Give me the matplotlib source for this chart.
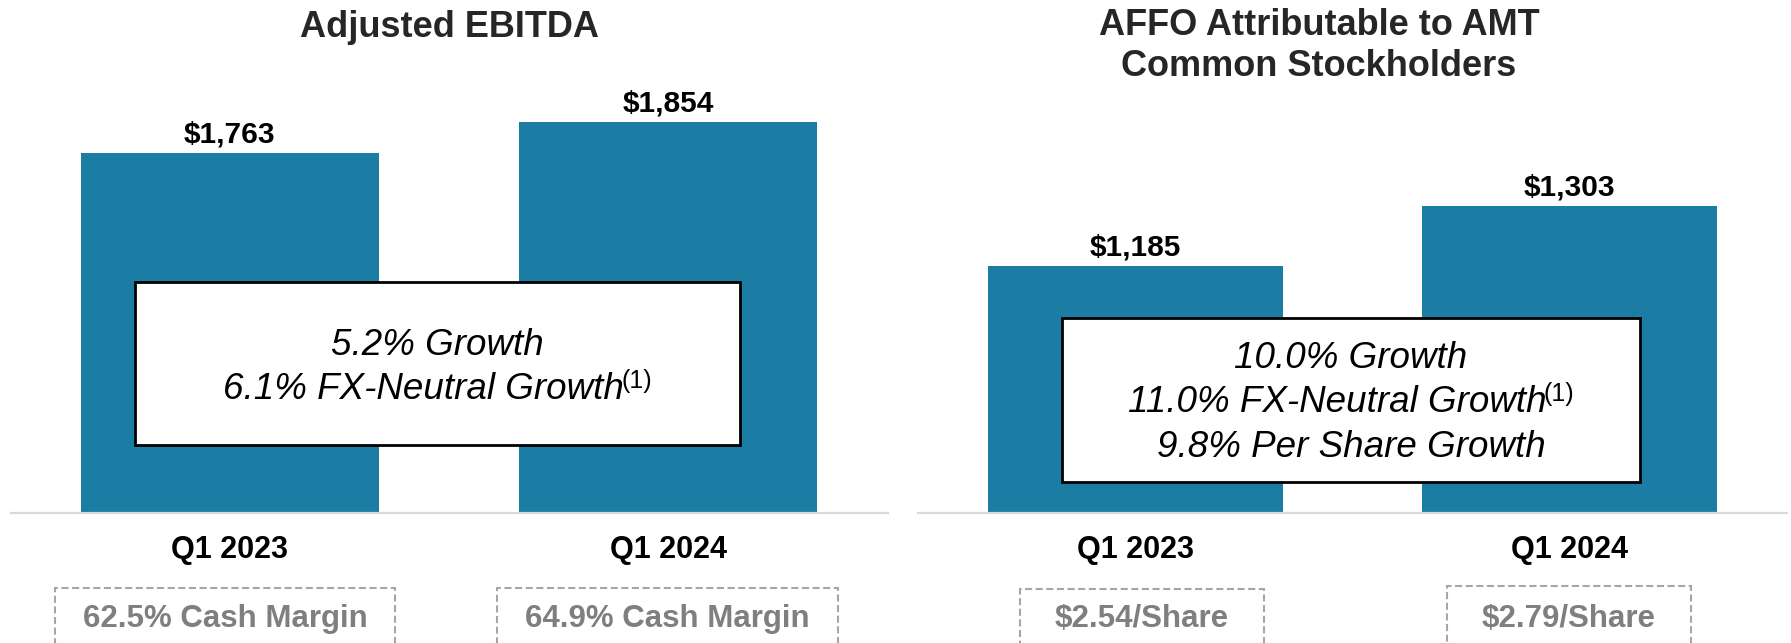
import numpy as np
import matplotlib
matplotlib.use("Agg")
import matplotlib.pyplot as plt
from matplotlib.patches import Rectangle

plt.rcParams['font.family'] = ['Liberation Sans', 'DejaVu Sans']

# data
periods = ['Q1 2023', 'Q1 2024']
ebitda = [1763, 1854]
affo = [1185, 1303]
cash_margin = ['62.5% Cash Margin', '64.9% Cash Margin']
affo_per_share = ['$2.54/Share', '$2.79/Share']
ebitda_growth = ['5.2% Growth', '6.1% FX-Neutral Growth']
affo_growth = ['10.0% Growth', '11.0% FX-Neutral Growth', '9.8% Per Share Growth']

W, H = 1791, 643
bar_color = '#1b7da3'
title_color = '#262626'

fig = plt.figure(figsize=(W / 100, H / 100), dpi=100, facecolor='white')


def fx(x):
    return x / W


def fy(y):
    return 1 - y / H


def panel(left_px, width_px, values, ymax):
    ax = fig.add_axes([fx(left_px), fy(513), width_px / W, 453 / H])
    x = np.arange(len(values))
    ax.bar(x, values, width=0.68, color=bar_color)
    ax.set_xlim(-0.5, 1.5)
    ax.set_ylim(700, ymax)
    for s in ['top', 'left', 'right']:
        ax.spines[s].set_visible(False)
    ax.spines['bottom'].set_color('#d9d9d9')
    ax.spines['bottom'].set_linewidth(1.6)
    ax.set_yticks([])
    ax.set_xticks(x, periods, fontsize=22, fontweight='bold')
    ax.tick_params(axis='x', length=0, pad=16)
    for i, v in enumerate(values):
        ax.annotate(f'${v:,}', xy=(i, v), xytext=(0, 7.5), textcoords='offset points',
                    ha='center', va='baseline', fontsize=21.5, fontweight='bold', color='black')
    return ax


ax1 = panel(10.5, 877, ebitda, 2037)
ax2 = panel(918, 869, affo, 1589)

# titles
fig.text(fx(449), fy(37), 'Adjusted EBITDA', ha='center', va='baseline',
         fontsize=26, fontweight='bold', color=title_color)
fig.text(fx(1319), fy(35), 'AFFO Attributable to AMT', ha='center', va='baseline',
         fontsize=26, fontweight='bold', color=title_color)
fig.text(fx(1319), fy(76), 'Common Stockholders', ha='center', va='baseline',
         fontsize=26, fontweight='bold', color=title_color)


def growth_box(x0, y0, x1, y1, lines, baselines, sup_line):
    fig.add_artist(Rectangle((fx(x0), fy(y1)), (x1 - x0) / W, (y1 - y0) / H,
                             transform=fig.transFigure, facecolor='white',
                             edgecolor='black', linewidth=2, zorder=2))
    cx = (x0 + x1) / 2
    r = fig.canvas.get_renderer()
    for i, (txt, yb) in enumerate(zip(lines, baselines)):
        t = fig.text(fx(cx), fy(yb), txt, ha='left', va='baseline', fontsize=26.5,
                     style='italic', color='black', zorder=3)
        w1 = t.get_window_extent(r).width
        if i == sup_line:
            s = fig.text(0, fy(yb - 11), '(1)', ha='left', va='baseline', fontsize=18,
                         color='black', zorder=3)
            w2 = s.get_window_extent(r).width
            start = cx - (w1 + w2 - 3) / 2
            t.set_x(fx(start))
            s.set_x(fx(start + w1 - 3))
        else:
            t.set_x(fx(cx - w1 / 2))


growth_box(135, 282, 740, 445, ebitda_growth, [355, 399], 1)
growth_box(1062, 318, 1640, 482, affo_growth, [368, 412, 457], 1)


def dashed_box(x0, x1, top, label):
    fig.add_artist(Rectangle((fx(x0), fy(680)), (x1 - x0) / W, (680 - top) / H,
                             transform=fig.transFigure, facecolor='none',
                             edgecolor='#a6a6a6', linewidth=1.5,
                             linestyle=(0, (3.4, 1.7)), zorder=2))
    fig.text(fx((x0 + x1) / 2), fy(627), label, ha='center', va='baseline',
             fontsize=22.5, fontweight='bold', color='#7f7f7f', zorder=3)


dashed_box(55, 395, 588, cash_margin[0])
dashed_box(497, 838, 588, cash_margin[1])
dashed_box(1020, 1264, 589, affo_per_share[0])
dashed_box(1447, 1691, 586, affo_per_share[1])

fig.savefig('out.png', dpi=100, facecolor='white')
